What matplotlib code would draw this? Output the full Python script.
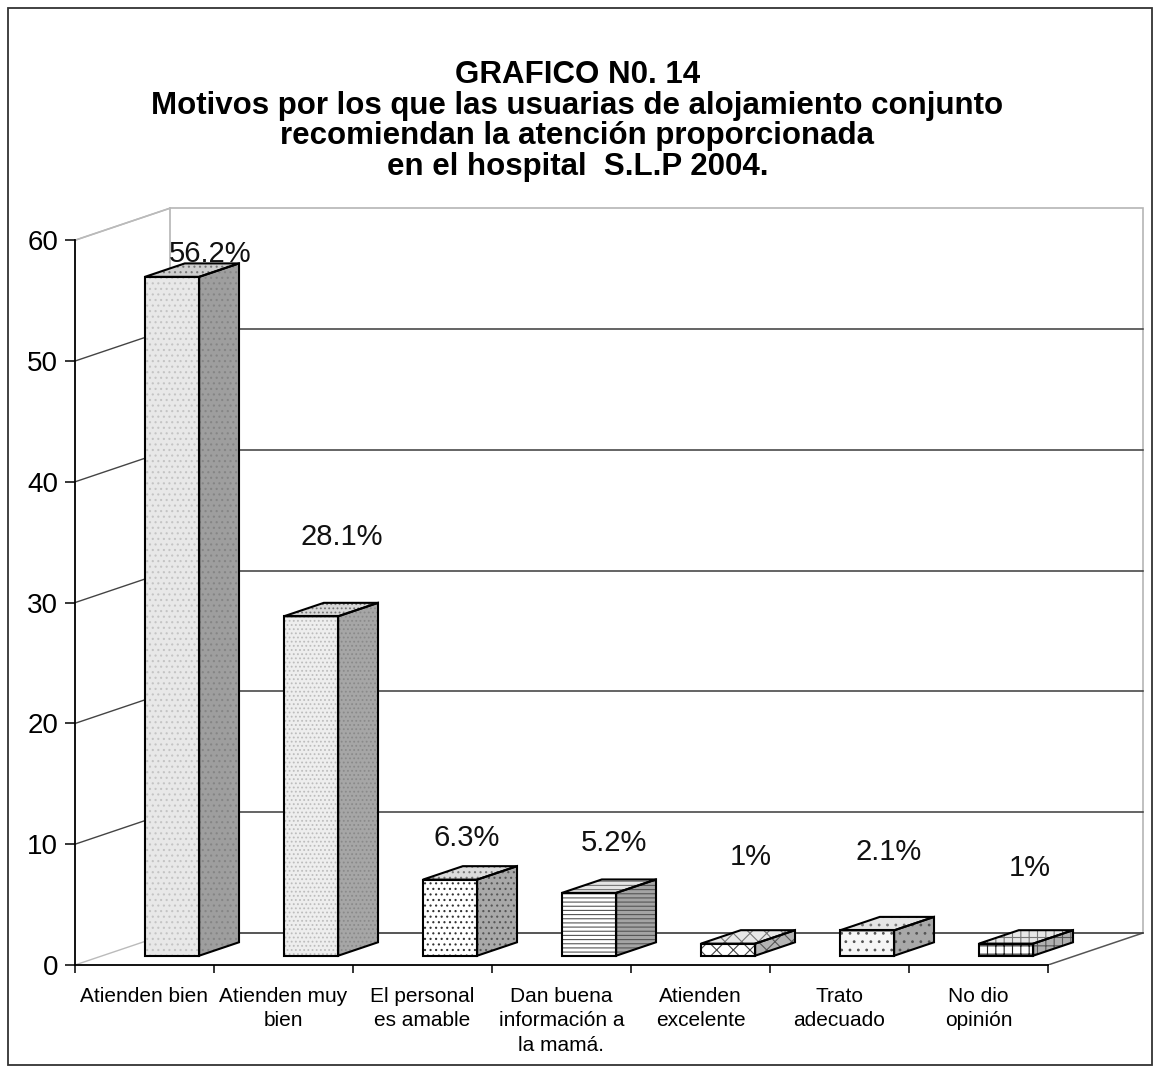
import matplotlib
matplotlib.use("Agg")
import matplotlib.pyplot as plt
from matplotlib.patches import Polygon, Rectangle

categories = [
    "Atienden bien",
    "Atienden muy\nbien",
    "El personal\nes amable",
    "Dan buena\ninformación a\nla mamá.",
    "Atienden\nexcelente",
    "Trato\nadecuado",
    "No dio\nopinión",
]
values = [56.2, 28.1, 6.3, 5.2, 1, 2.1, 1]
value_labels = ["56.2%", "28.1%", "6.3%", "5.2%", "1%", "2.1%", "1%"]
y_ticks = [0, 10, 20, 30, 40, 50, 60]

title = ("GRAFICO N0. 14\n"
         "Motivos por los que las usuarias de alojamiento conjunto\n"
         "recomiendan la atención proporcionada\n"
         "en el hospital  S.L.P 2004.")

# where Excel left the data labels (manually placed in the original)
label_dx = [0.47, 0.42, 0.32, 0.38, 0.36, 0.35, 0.37]
label_y = [58.9, 35.4, 10.5, 10.1, 8.9, 9.35, 8.0]

# fills: front, side, top, hatch, hatch colour
front_c = ["#e8e8e8", "#eeeeee", "#ffffff", "#ffffff", "#ffffff", "#f6f6f6", "#ffffff"]
side_c = ["#9e9e9e", "#a6a6a6", "#a8a8a8", "#a4a4a4", "#b4b4b4", "#a8a8a8", "#b0b0b0"]
top_c = ["#cfcfcf", "#d8d8d8", "#dcdcdc", "#e4e4e4", "#e8e8e8", "#e4e4e4", "#e8e8e8"]
hatches = ["...", "....", "...", "----", "xx", "..", "++"]
hatch_c = ["#c4c4c4", "#bdbdbd", "#333333", "#555555", "#444444", "#555555", "#222222"]
side_hc = ["#858585", "#8a8a8a", "#555555", "#555555", "#555555", "#555555", "#555555"]

plt.rcParams["font.family"] = ["Liberation Sans", "DejaVu Sans"]
plt.rcParams["hatch.linewidth"] = 0.8

# depth of the 3d box in data units
DX = 0.683
DY = 2.65
F0, F1 = 0.29, 0.71
W = 0.39


def face(ax, pts, fc, hatch, hc, z):
    ax.add_patch(Polygon(pts, closed=True, facecolor=fc, edgecolor="none", zorder=z))
    if hatch:
        ax.add_patch(Polygon(pts, closed=True, facecolor="none", edgecolor=hc,
                             hatch=hatch, lw=0, zorder=z))
    ax.add_patch(Polygon(pts, closed=True, facecolor="none", edgecolor="black",
                         lw=1.5, zorder=z + 0.1))


def _main():
    fig = plt.figure(figsize=(11.55, 10.71), dpi=100)
    ax = fig.add_axes([75 / 1155, 106 / 1071, 1070.3 / 1155, 761 / 1071])
    n = len(values)
    x0, x1 = -0.5, n - 0.5
    top = y_ticks[-1]
    ax.set_xlim(x0, 7.2)
    ax.set_ylim(0, 63)

    # walls and floor
    ax.add_patch(Polygon([(x0 + DX, DY), (x1 + DX, DY), (x1 + DX, top + DY), (x0 + DX, top + DY)],
                         facecolor="white", edgecolor="#b5b5b5", lw=1.2, zorder=1))
    ax.plot([x0, x0 + DX], [top, top + DY], color="#b5b5b5", lw=1.2, zorder=2)
    ax.plot([x1, x1 + DX], [0, DY], color="#555555", lw=1.1, zorder=2)
    for v in y_ticks:
        c = "#bbbbbb" if v in (0, top) else "#444444"
        ax.plot([x0, x0 + DX], [v, v + DY], color=c, lw=1.0, zorder=2)
        if v != top:
            ax.plot([x0 + DX, x1 + DX], [v + DY, v + DY], color="#3a3a3a", lw=1.1, zorder=2)

    # bars
    for i, v in enumerate(values):
        xl = i - W / 2 + F0 * DX
        xr = i + W / 2 + F0 * DX
        b0 = F0 * DY
        ddx = (F1 - F0) * DX
        ddy = (F1 - F0) * DY
        z = 5 + i
        face(ax, [(xl, b0), (xr, b0), (xr, v + b0), (xl, v + b0)],
             front_c[i], hatches[i], hatch_c[i], z)
        face(ax, [(xr, b0), (xr + ddx, b0 + ddy), (xr + ddx, v + b0 + ddy), (xr, v + b0)],
             side_c[i], hatches[i], side_hc[i], z)
        face(ax, [(xl, v + b0), (xr, v + b0), (xr + ddx, v + b0 + ddy), (xl + ddx, v + b0 + ddy)],
             top_c[i], hatches[i], "#777777", z)
        ax.text(i + label_dx[i], label_y[i], value_labels[i], ha="center", va="center",
                fontsize=21, color="#111111", zorder=20)

    # axes
    for s in ("top", "right"):
        ax.spines[s].set_visible(False)
    ax.spines["left"].set_bounds(0, top)
    ax.spines["bottom"].set_bounds(x0, x1)
    ax.spines["left"].set_linewidth(1.3)
    ax.spines["bottom"].set_linewidth(1.3)
    ax.set_yticks(y_ticks)
    ax.tick_params(axis="y", direction="out", length=7, width=1.1, pad=5, labelsize=20)
    ax.set_xticks([x0 + k for k in range(n + 1)])
    ax.set_xticks(range(n), categories, minor=True)
    ax.tick_params(axis="x", which="major", direction="out", length=6, width=1.1, labelbottom=False)
    ax.tick_params(axis="x", which="minor", length=0, pad=16, labelsize=15)
    for lab in ax.get_xticklabels(minor=True):
        lab.set_linespacing(1.35)

    fig.text(0.5, 1 - 121 / 1071, title, ha="center", va="center", fontsize=22.5,
             fontweight="bold", linespacing=1.04)
    fig.add_artist(Rectangle((8 / 1155, 6 / 1071), 1144 / 1155, 1057 / 1071,
                             transform=fig.transFigure, fill=False, ec="#333333", lw=1.3))
    fig.savefig("out.png", dpi=100)


if __name__ == "__main__":
    _main()
